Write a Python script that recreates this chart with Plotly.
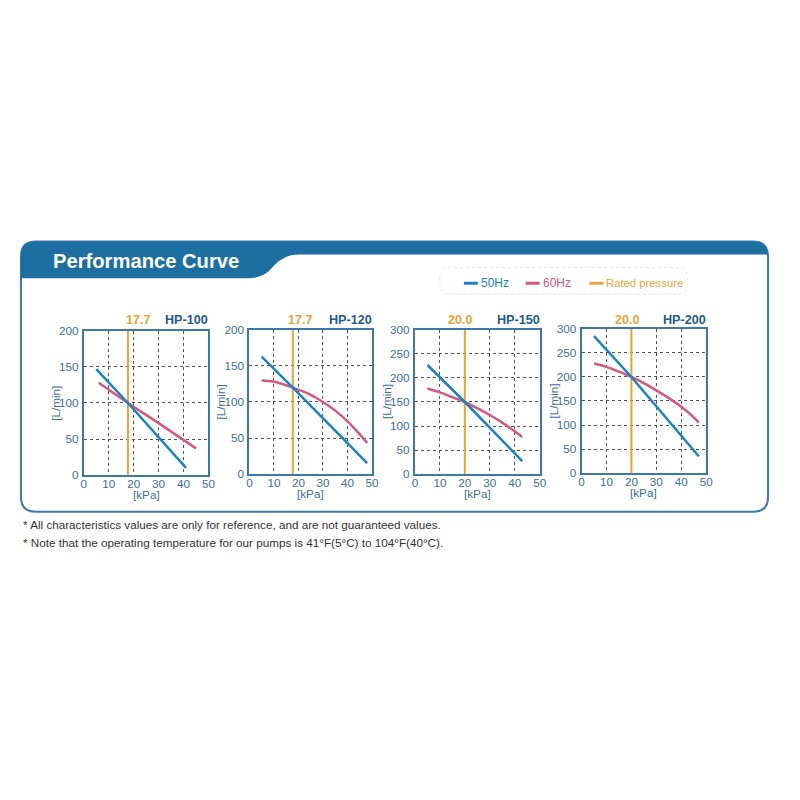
import plotly.graph_objects as go

# ---------------- data ----------------
models = ["HP-100", "HP-120", "HP-150", "HP-200"]
rated_kpa = [17.7, 17.7, 20.0, 20.0]
rated_labels = ["17.7", "17.7", "20.0", "20.0"]
y_max = [200, 200, 300, 300]
x_ticks = [0, 10, 20, 30, 40, 50]
y_ticks_200 = [0, 50, 100, 150, 200]
y_ticks_300 = [0, 50, 100, 150, 200, 250, 300]

kpa_50 = [
    [5, 17.7, 41],
    [5, 17.7, 48],
    [5, 20, 43],
    [5, 20, 47],
]
flow_50 = [
    [147, 100, 10],
    [163, 120, 15],
    [227, 150, 27],
    [285, 200, 35],
]
kpa_60 = [
    [6, 17.7, 30, 45],
    [5, 10, 17.7, 25, 30, 35, 40, 45, 48],
    [5, 10, 15, 20, 25, 30, 35, 40, 43],
    [5, 10, 15, 20, 25, 30, 35, 40, 45, 47],
]
flow_60 = [
    [128, 100, 72, 37],
    [130, 128, 120, 110, 100, 88, 73, 55, 43],
    [178, 170, 160, 150, 137, 123, 107, 89, 77],
    [228, 221, 211, 200, 187, 172, 156, 138, 116, 105],
]

# ---------------- styles ----------------
W = H = 800
C50 = "#1b82c4"
C60 = "#d4587f"
CRATED = "#e9a33a"
CFRAME = "#3b78ab"
CTITLE = "#1f5a8a"
CTICK = "#3d6f98"
CHEAD = "#1d6ea1"
FONT = "Liberation Sans, Arial, sans-serif"

# plot areas in target pixels: (x0, x1, ytop, ybottom)
areas = [
    (85, 210, 330, 475),
    (251, 374, 329, 474),
    (417, 542, 329, 474),
    (584, 709, 328, 473),
]
rated_text_x = [140, 302, 463, 630]

# compensation for the slight page scaling observed in the rendering
S, OFF = 0.99, 4.0


def px(x):
    return ((x - OFF) / S) / W


def py(y):
    return 1 - ((y - OFF) / S) / H


fig = go.Figure()
layout = dict(
    width=W, height=H, margin=dict(l=0, r=0, t=0, b=0),
    paper_bgcolor="white", plot_bgcolor="white", showlegend=False,
)
annotations = []
shapes = []

for i, m in enumerate(models):
    xa = "x" if i == 0 else f"x{i+1}"
    ya = "y" if i == 0 else f"y{i+1}"
    x0, x1, yt, yb = areas[i]
    fig.add_trace(go.Scatter(x=[rated_kpa[i], rated_kpa[i]], y=[0, y_max[i]],
                             mode="lines", line=dict(color=CRATED, width=2),
                             xaxis=xa, yaxis=ya, name="Rated pressure"))
    fig.add_trace(go.Scatter(x=kpa_60[i], y=flow_60[i], mode="lines",
                             line=dict(color=C60, width=2.5, shape="spline"),
                             xaxis=xa, yaxis=ya, name="60Hz"))
    fig.add_trace(go.Scatter(x=kpa_50[i], y=flow_50[i], mode="lines",
                             line=dict(color=C50, width=2.5),
                             xaxis=xa, yaxis=ya, name="50Hz"))
    axcommon = dict(showline=True, linecolor=CFRAME, linewidth=2, mirror=True,
                    showgrid=True, gridcolor="#555555", griddash="dot", gridwidth=1,
                    zeroline=False, ticks="", fixedrange=True,
                    tickfont=dict(family=FONT, size=11.7, color=CTICK))
    xkey = "xaxis" if i == 0 else f"xaxis{i+1}"
    ykey = "yaxis" if i == 0 else f"yaxis{i+1}"
    layout[xkey] = dict(axcommon, domain=[px(x0), px(x1)], range=[0, 50],
                        tickvals=x_ticks, anchor=ya, ticklabelstandoff=-3)
    layout[ykey] = dict(axcommon, domain=[py(yb), py(yt)], range=[0, y_max[i]],
                        tickvals=y_ticks_200 if y_max[i] == 200 else y_ticks_300,
                        anchor=xa, ticklabelstandoff=1)
    annotations.append(dict(text=f"<b>{m}</b>", x=px(x1 + 2), y=py(319), xref="paper", yref="paper",
                            xanchor="right", yanchor="middle", showarrow=False,
                            font=dict(family=FONT, size=12.6, color=CTITLE)))
    annotations.append(dict(text=f"<b>{rated_labels[i]}</b>", x=px(rated_text_x[i]), y=py(319),
                            xref="paper", yref="paper", xanchor="center", yanchor="middle",
                            showarrow=False,
                            font=dict(family=FONT, size=12.6, color=CRATED)))
    annotations.append(dict(text="[kPa]", x=px((x0 + x1) / 2), y=py(yb + 20), xref="paper", yref="paper",
                            xanchor="center", yanchor="middle", showarrow=False,
                            font=dict(family=FONT, size=11.7, color=CTICK)))
    annotations.append(dict(text="[L/min]", x=px(x0 - 28), y=py((yt + yb) / 2), xref="paper", yref="paper",
                            xanchor="center", yanchor="middle", textangle=-90, showarrow=False,
                            font=dict(family=FONT, size=11.7, color=CTICK)))


def P(x, y):
    return f"{px(x):.5f},{py(y):.5f}"


# outer box
r = 15
L, R, T, B = 22, 771, 240, 512
box = (f"M {P(L, T + r)} L {P(L, B - r)} Q {P(L, B)} {P(L + r, B)} "
       f"L {P(R - r, B)} Q {P(R, B)} {P(R, B - r)} L {P(R, T + r)} "
       f"Q {P(R, T)} {P(R - r, T)} L {P(L + r, T)} Q {P(L, T)} {P(L, T + r)} Z")
shapes.append(dict(type="path", path=box, xref="paper", yref="paper",
                   line=dict(color=CFRAME, width=2), fillcolor="rgba(0,0,0,0)"))
# header band
head = (f"M {P(L, 277)} L {P(L, T + r)} Q {P(L, T)} {P(L + r, T)} L {P(R - r, T)} "
        f"Q {P(R, T)} {P(R, T + r)} L {P(R, 253)} L {P(300, 253)} "
        f"Q {P(285, 253)} {P(275, 265)} Q {P(266, 277)} {P(250, 277)} Z")
shapes.append(dict(type="path", path=head, xref="paper", yref="paper",
                   line=dict(width=0), fillcolor=CHEAD, layer="above"))
annotations.append(dict(text="<b>Performance Curve</b>", x=px(52), y=py(260), xref="paper", yref="paper",
                        xanchor="left", yanchor="middle", showarrow=False,
                        font=dict(family=FONT, size=20.2, color="white")))

# legend (faint dotted frame + items)
lr = 10
lL, lR, lT, lB = 442, 690, 266, 293
lbox = (f"M {P(lL, lT + lr)} L {P(lL, lB - lr)} Q {P(lL, lB)} {P(lL + lr, lB)} "
        f"L {P(lR - lr, lB)} Q {P(lR, lB)} {P(lR, lB - lr)} L {P(lR, lT + lr)} "
        f"Q {P(lR, lT)} {P(lR - lr, lT)} L {P(lL + lr, lT)} Q {P(lL, lT)} {P(lL, lT + lr)} Z")
shapes.append(dict(type="path", path=lbox, xref="paper", yref="paper",
                   line=dict(color="#e2e2e2", width=1, dash="dot"), fillcolor="rgba(0,0,0,0)"))
legend_items = [("50Hz", C50, 466, 12), ("60Hz", C60, 528, 12), ("Rated pressure", CRATED, 592, 11.3)]
for name, col, lx, fs in legend_items:
    shapes.append(dict(type="line", x0=px(lx), x1=px(lx + 14), y0=py(282), y1=py(282),
                       xref="paper", yref="paper", line=dict(color=col, width=3)))
    annotations.append(dict(text=name, x=px(lx + 15), y=py(282), xref="paper", yref="paper",
                            xanchor="left", yanchor="middle", showarrow=False,
                            font=dict(family=FONT, size=fs, color=col)))

# footnotes
notes = ["* All characteristics values are only for reference, and are not guaranteed values.",
         "* Note that the operating temperature for our pumps is 41°F(5°C) to 104°F(40°C)."]
for k, t in enumerate(notes):
    annotations.append(dict(text=t, x=px(22), y=py(525 + 18 * k), xref="paper", yref="paper",
                            xanchor="left", yanchor="middle", showarrow=False,
                            font=dict(family=FONT, size=11.7, color="#333333")))

layout["annotations"] = annotations
layout["shapes"] = shapes
fig.update_layout(**layout)
fig.write_html("out.html", config={"displayModeBar": False},
               post_script="document.body.style.margin='0';document.body.style.overflow='hidden';")
